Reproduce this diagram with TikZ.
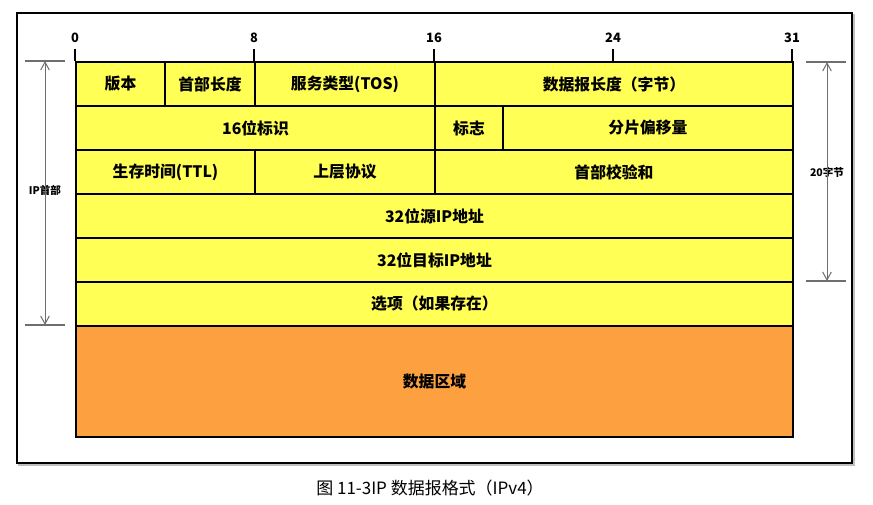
\documentclass[tikz,border=0pt]{standalone}
\usepackage{fontspec}
\setmainfont{Noto Sans CJK SC}
\usetikzlibrary{arrows.meta, positioning, calc}
\definecolor{cYellow}{RGB}{255,255,85}
\definecolor{cOrange}{RGB}{252,160,64}
\definecolor{cDim}{RGB}{110,110,110}
\tikzset{
	field/.style   ={rectangle, draw=black, line width=0.6mm, fill=cYellow, inner sep=0pt, anchor=north west, minimum height=13.2mm, align=center, font=\fontsize{13.5}{15}\selectfont\bfseries},
	datafield/.style={field, fill=cOrange, minimum height=33.3mm},
	bitlbl/.style  ={font=\fontsize{11}{13}\selectfont\bfseries, inner sep=1pt},
	tick/.style    ={line width=0.6mm},
	dimline/.style ={draw=cDim, line width=0.35mm},
	dimarrow/.style={-{Straight Barb[length=2.4mm, width=2.6mm]}, draw=cDim, line width=0.3mm},
	dimlbl/.style  ={font=\fontsize{9}{11}\selectfont\bfseries, inner sep=1pt},
}
\begin{document}
\begin{tikzpicture}[x=0.3mm, y=-0.3mm]
	\useasboundingbox (0,0) rectangle (873,504);
	% frame
	\draw[black!25, line width=0.5mm] (19,15) rectangle (854,465);
	\draw[black, line width=0.45mm, fill=white] (17,13) rectangle (852,463);
	% bit positions
	\foreach \x/\b in {75/0, 254/8, 434/16, 613/24, 792/31}{
		\draw[tick] (\x,49) -- (\x,61);
		\node[bitlbl] (b\b) at (\x,38) {\b};
	}
	% header rows
	\node[field, minimum width=26.7mm] (ver) at (75,61) {版本};
	\node[field, minimum width=27mm] (ihl) at (164,61) {首部长度};
	\node[field, minimum width=54mm] (tos) at (254,61) {服务类型(TOS)};
	\node[field, minimum width=107.4mm] (len) at (434,61) {数据报长度（字节）};
	\node[field, minimum width=107.7mm] (ident) at (75,105) {16位标识};
	\node[field, minimum width=20.4mm] (flags) at (434,105) {标志};
	\node[field, minimum width=87mm] (frag) at (502,105) {分片偏移量};
	\node[field, minimum width=53.7mm] (ttl) at (75,149) {生存时间(TTL)};
	\node[field, minimum width=54mm] (proto) at (254,149) {上层协议};
	\node[field, minimum width=107.4mm] (csum) at (434,149) {首部校验和};
	\node[field, minimum width=215.1mm] (src) at (75,193) {32位源IP地址};
	\node[field, minimum width=215.1mm] (dst) at (75,237) {32位目标IP地址};
	\node[field, minimum width=215.1mm] (opt) at (75,281) {选项（如果存在）};
	\node[datafield, minimum width=215.1mm] (data) at (75,325) {数据区域};
	% header length, left
	\draw[dimline] (25,61) -- (65,61);
	\draw[dimline] (25,325) -- (65,325);
	\coordinate (ltop) at (45,61);
	\coordinate (lbot) at (45,325);
	\node[dimlbl] (iphdr) at (45,190) {IP首部};
	\draw[dimarrow] ([yshift=-4mm]iphdr.north) -- (ltop);
	\draw[dimarrow] ([yshift=4mm]iphdr.south) -- (lbot);
	% fixed part, right
	\draw[dimline] (806,62) -- (846,62);
	\draw[dimline] (806,281) -- (846,281);
	\coordinate (rtop) at (827,62);
	\coordinate (rbot) at (827,281);
	\node[dimlbl] (fixed) at (827,172) {20字节};
	\draw[dimarrow] ([yshift=-4mm]fixed.north) -- (rtop);
	\draw[dimarrow] ([yshift=4mm]fixed.south) -- (rbot);
	% caption
	\node[font=\fontsize{14.5}{16}\selectfont] (cap) at (430,488) {图 11-3IP 数据报格式（IPv4）};
\end{tikzpicture}
\end{document}
